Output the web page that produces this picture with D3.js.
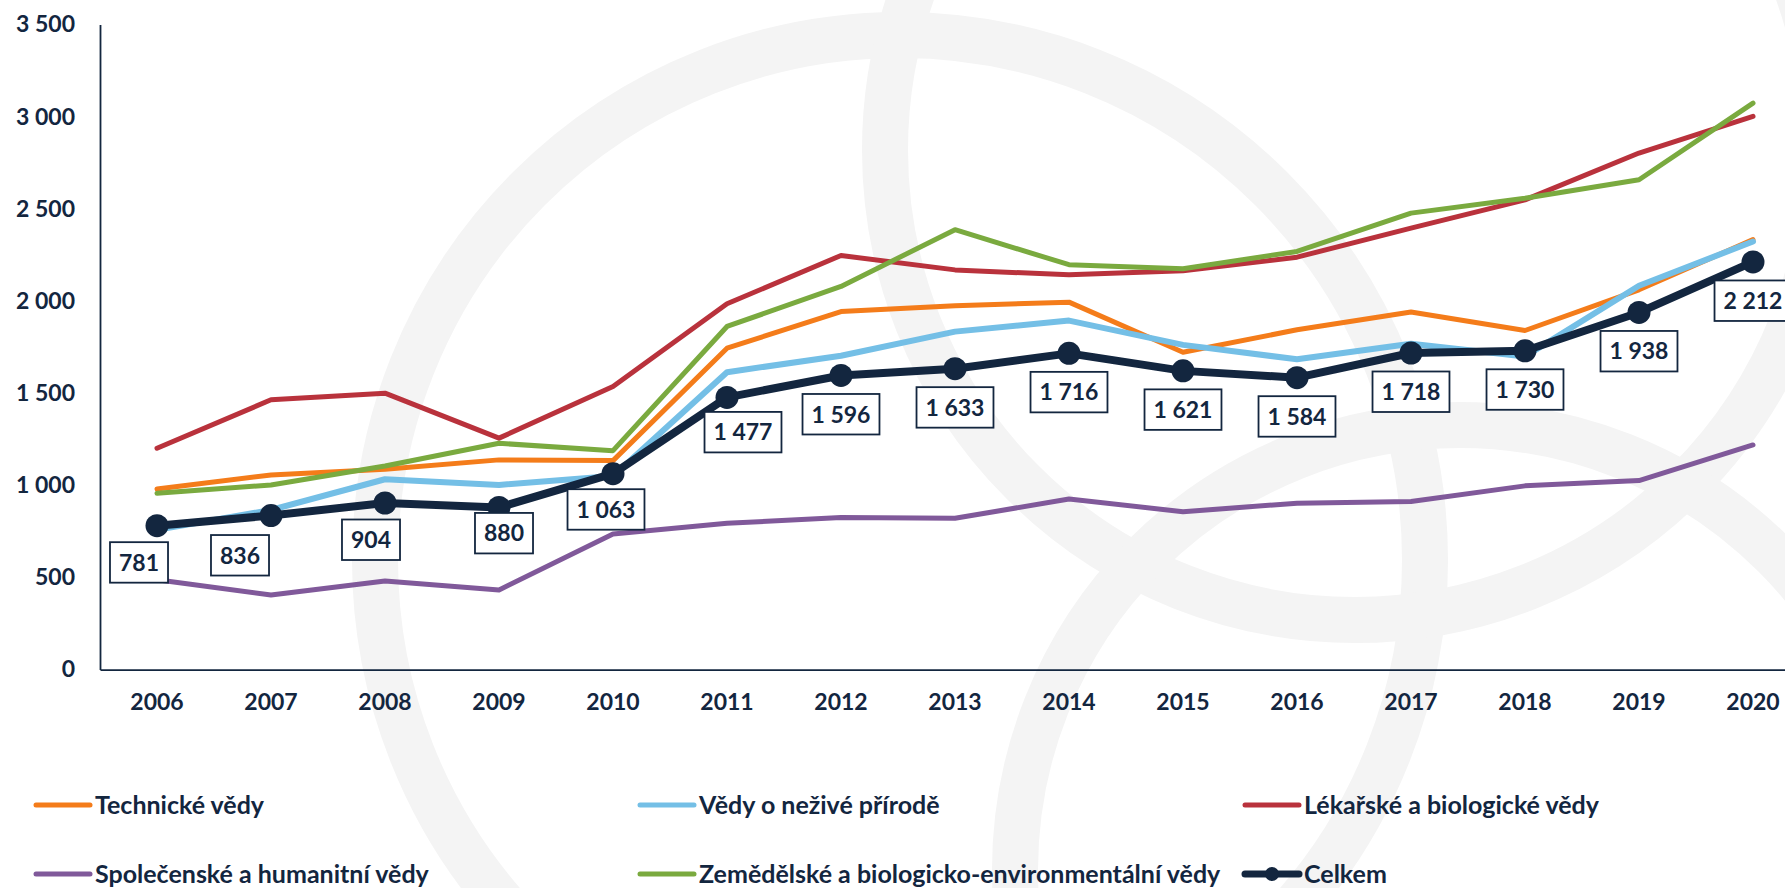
<!DOCTYPE html>
<html>
<head>
<meta charset="utf-8">
<script src="https://cdn.jsdelivr.net/npm/d3@7"></script>
<style>
  html, body { margin: 0; padding: 0; background: #fff; }
  svg { display: block; }
  text { font-family: Lato, "Open Sans", sans-serif; font-weight: bold; fill: #13263f; }
</style>
</head>
<body>
<svg id="chart"></svg>
<script>
var years = ['2006','2007','2008','2009','2010','2011','2012','2013','2014','2015','2016','2017','2018','2019','2020'];
var technicke   = [980, 1056, 1087, 1138, 1134, 1744, 1943, 1974, 1994, 1722, 1844, 1940, 1840, 2061, 2333];
var nezive      = [758, 866, 1033, 1002, 1050, 1614, 1703, 1834, 1894, 1762, 1684, 1768, 1699, 2083, 2323];
var lekarske    = [1201, 1464, 1500, 1256, 1536, 1985, 2247, 2169, 2142, 2164, 2238, 2396, 2549, 2803, 3002];
var spolecenske = [487, 405, 481, 432, 736, 794, 825, 821, 926, 857, 903, 912, 997, 1026, 1219];
var zemedelske  = [957, 1002, 1105, 1228, 1188, 1862, 2079, 2387, 2197, 2175, 2269, 2477, 2558, 2658, 3074];
var celkem      = [781, 836, 904, 880, 1063, 1477, 1596, 1633, 1716, 1621, 1584, 1718, 1730, 1938, 2212];
var yTicks = [0, 500, 1000, 1500, 2000, 2500, 3000, 3500];

var width = 1785, height = 888;
var navy = '#13263f';

var series = [
  {name:'Technické vědy', values:technicke, color:'#f47c1a'},
  {name:'Vědy o neživé přírodě', values:nezive, color:'#74bfe6'},
  {name:'Lékařské a biologické vědy', values:lekarske, color:'#b9323c'},
  {name:'Společenské a humanitní vědy', values:spolecenske, color:'#80599a'},
  {name:'Zemědělské a biologicko-environmentální vědy', values:zemedelske, color:'#7aaa3f'},
  {name:'Celkem', values:celkem, color:navy, total:true}
];

// manual nudges of the total labels (dx, dy), like in the original
var labelShift = [[-18,-2],[-31,1],[-14,-2],[5,-13],[-7,-3],[16,-4],[0,0],[0,0],[0,0],[0,0],[0,0],[0,0],[0,0],[0,0],[0,0]];

var fmt = d3.formatLocale({decimal:',', thousands:' ', grouping:[3], currency:['','']}).format(',d');

var svg = d3.select('#chart').attr('width', width).attr('height', height);

// faint watermark rings
var wm = svg.append('g').attr('fill', 'none').attr('stroke', '#f4f4f4').attr('stroke-width', 46);
wm.append('circle').attr('cx', 900).attr('cy', 560).attr('r', 525);
wm.append('circle').attr('cx', 1355).attr('cy', 150).attr('r', 470);
wm.append('circle').attr('cx', 1460).attr('cy', 870).attr('r', 445);

var x = d3.scaleBand().domain(years).range([100, 1810]);
var y = d3.scaleLinear().domain([0, 3500]).range([669.6, 24.6]);
var cx = function(i){ return x(years[i]) + x.bandwidth() / 2; };

var yaxis = d3.axisLeft(y).tickValues(yTicks).tickFormat(fmt).tickSize(0).tickPadding(25).tickSizeOuter(0);
var xaxis = d3.axisBottom(x).tickSize(0).tickPadding(24).tickSizeOuter(0);

var yg = svg.append('g').attr('transform', 'translate(100,0)').call(yaxis);
var xg = svg.append('g').attr('transform', 'translate(0,669.6)').call(xaxis);
[yg, xg].forEach(function(g){
  g.select('.domain').attr('stroke', navy).attr('stroke-width', 1.8);
  g.selectAll('text').attr('font-family', null).attr('font-size', 23).attr('fill', navy);
});

var line = d3.line().x(function(d, i){ return cx(i); }).y(function(d){ return y(d); });

svg.append('g').selectAll('path')
  .data(series)
  .join('path')
  .attr('d', function(d){ return line(d.values); })
  .attr('fill', 'none')
  .attr('stroke', function(d){ return d.color; })
  .attr('stroke-width', function(d){ return d.total ? 8 : (d.color == '#74bfe6' ? 6 : 5); })
  .attr('stroke-linejoin', 'round')
  .attr('stroke-linecap', 'round');

svg.append('g').selectAll('circle')
  .data(celkem)
  .join('circle')
  .attr('cx', function(d, i){ return cx(i); })
  .attr('cy', function(d){ return y(d); })
  .attr('r', 11.5)
  .attr('fill', navy);

// total labels in boxes
var labels = svg.append('g').selectAll('g')
  .data(celkem)
  .join('g');
labels.each(function(d, i){
  var g = d3.select(this);
  var t = g.append('text').text(fmt(d)).attr('font-size', 23).attr('text-anchor', 'middle');
  var w = t.node().getComputedTextLength() + 18, h = 40.5;
  var mx = cx(i) + labelShift[i][0], top = y(d) + 18.5 + labelShift[i][1];
  g.insert('rect', 'text')
    .attr('x', mx - w / 2).attr('y', top).attr('width', w).attr('height', h)
    .attr('fill', '#fff').attr('stroke', navy).attr('stroke-width', 1.8);
  t.attr('x', mx).attr('y', top + h / 2).attr('dy', '0.36em');
});

// legend
var colX = [36, 640, 1245], rowY = [805, 874];
var leg = svg.append('g').selectAll('g')
  .data(series)
  .join('g')
  .attr('transform', function(d, i){ return 'translate(' + colX[i % 3] + ',' + rowY[Math.floor(i / 3)] + ')'; });
leg.append('line')
  .attr('x1', 0).attr('x2', 54).attr('y1', 0).attr('y2', 0)
  .attr('stroke', function(d){ return d.color; })
  .attr('stroke-width', function(d){ return d.total ? 7 : 5; })
  .attr('stroke-linecap', 'round');
leg.filter(function(d){ return d.total; }).append('circle')
  .attr('cx', 27).attr('cy', 0).attr('r', 7).attr('fill', navy);
leg.append('text')
  .attr('x', 59).attr('dy', '0.34em')
  .attr('font-size', 25)
  .text(function(d){ return d.name; });
</script>
</body>
</html>
